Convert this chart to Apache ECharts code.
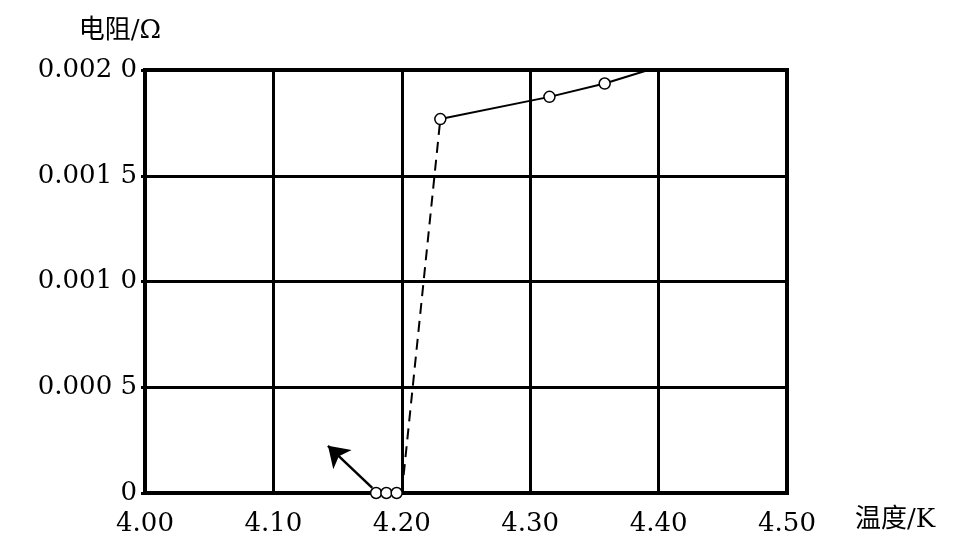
<!DOCTYPE html>
<html>
<head>
<meta charset="utf-8">
<title>电阻-温度</title>
<script src="https://cdn.jsdelivr.net/npm/echarts@6/dist/echarts.min.js"></script>
<style>
  html, body { margin: 0; padding: 0; background: #fff; }
  #chart { width: 976px; height: 550px; }
</style>
</head>
<body>
<div id="chart"></div>
<script>
// 刻度
var xTicks = [4.0, 4.1, 4.2, 4.3, 4.4, 4.5];
var xTickLabels = ['4.00', '4.10', '4.20', '4.30', '4.40', '4.50'];
var yTicks = [0, 0.0005, 0.001, 0.0015, 0.002];
var yTickLabels = ['0', '0.000 5', '0.001 0', '0.001 5', '0.002 0'];

// 超导转变点 (y = 0)
var lowX = [4.180, 4.188, 4.196];
var lowY = [0, 0, 0];
// 转变虚线
var jumpX = [4.200, 4.230];
var jumpY = [0, 0.001768];
// 正常态
var normX = [4.230, 4.315, 4.358, 4.392];
var normY = [0.001768, 0.001873, 0.001936, 0.0020];
var normMark = [true, true, true, false];
// 箭头
var arrowX = [4.177, 4.1425];
var arrowY = [0.000024, 0.000223];

var font = "'DejaVu Serif', 'Liberation Serif', 'Noto Sans CJK SC', serif";

function pairs(xs, ys) {
  return xs.map(function (x, i) { return [x, ys[i]]; });
}

var chart = echarts.init(document.getElementById('chart'));

var option = {
  animation: false,
  backgroundColor: '#fff',
  grid: {
    left: 145, right: 189, top: 70, bottom: 57,
    show: true, borderColor: '#000', borderWidth: 4
  },
  xAxis: {
    type: 'value',
    min: 4.0, max: 4.5, interval: 0.1,
    name: '温度/K',
    nameLocation: 'end',
    nameGap: 68,
    nameTextStyle: { color: '#000', fontSize: 26, fontFamily: font, verticalAlign: 'top', padding: [14, 0, 0, 0] },
    axisLine: { show: true, lineStyle: { color: '#000', width: 4 } },
    axisTick: { show: false },
    axisLabel: {
      color: '#000', fontSize: 26, fontFamily: font, margin: 18,
      formatter: function (v) {
        for (var i = 0; i < xTicks.length; i++) {
          if (Math.abs(xTicks[i] - v) < 1e-6) return xTickLabels[i];
        }
        return '';
      }
    },
    splitLine: { show: true, lineStyle: { color: '#000', width: 3 } }
  },
  yAxis: {
    type: 'value',
    min: 0, max: 0.002, interval: 0.0005,
    name: '电阻/Ω',
    nameLocation: 'end',
    nameGap: 26,
    nameTextStyle: { color: '#000', fontSize: 26, fontFamily: font, padding: [0, 50, 0, 0] },
    axisLine: { show: true, lineStyle: { color: '#000', width: 4 } },
    axisTick: { show: true, length: 4, lineStyle: { color: '#000', width: 3 } },
    axisLabel: {
      color: '#000', fontSize: 26, fontFamily: font, margin: 8,
      formatter: function (v) {
        for (var i = 0; i < yTicks.length; i++) {
          if (Math.abs(yTicks[i] - v) < 1e-9) return yTickLabels[i];
        }
        return '';
      }
    },
    splitLine: { show: true, lineStyle: { color: '#000', width: 3 } }
  },
  series: [
    {
      // 虚线
      type: 'line',
      data: pairs(jumpX, jumpY),
      symbol: 'none',
      lineStyle: { color: '#000', width: 2, type: [11, 7] },
      z: 3
    },
    {
      type: 'line',
      data: pairs(normX, normY).map(function (p, i) {
        return { value: p, symbol: normMark[i] ? 'circle' : 'none' };
      }),
      symbolSize: 11,
      showAllSymbol: true,
      itemStyle: { color: '#fff', borderColor: '#000', borderWidth: 1.5 },
      lineStyle: { color: '#000', width: 2 },
      z: 4
    },
    {
      type: 'lines',
      coordinateSystem: 'cartesian2d',
      symbol: ['none', 'arrow'],
      symbolSize: 20,
      lineStyle: { color: '#000', width: 2.5, opacity: 1 },
      data: [{ coords: pairs(arrowX, arrowY) }],
      z: 4
    },
    {
      type: 'scatter',
      data: pairs(lowX, lowY),
      symbol: 'circle',
      symbolSize: 11,
      itemStyle: { color: '#fff', borderColor: '#000', borderWidth: 1.5, opacity: 1 },
      z: 5
    }
  ]
};

chart.setOption(option);
window.addEventListener('resize', function () {
  chart && chart.resize();
});
</script>
</body>
</html>
